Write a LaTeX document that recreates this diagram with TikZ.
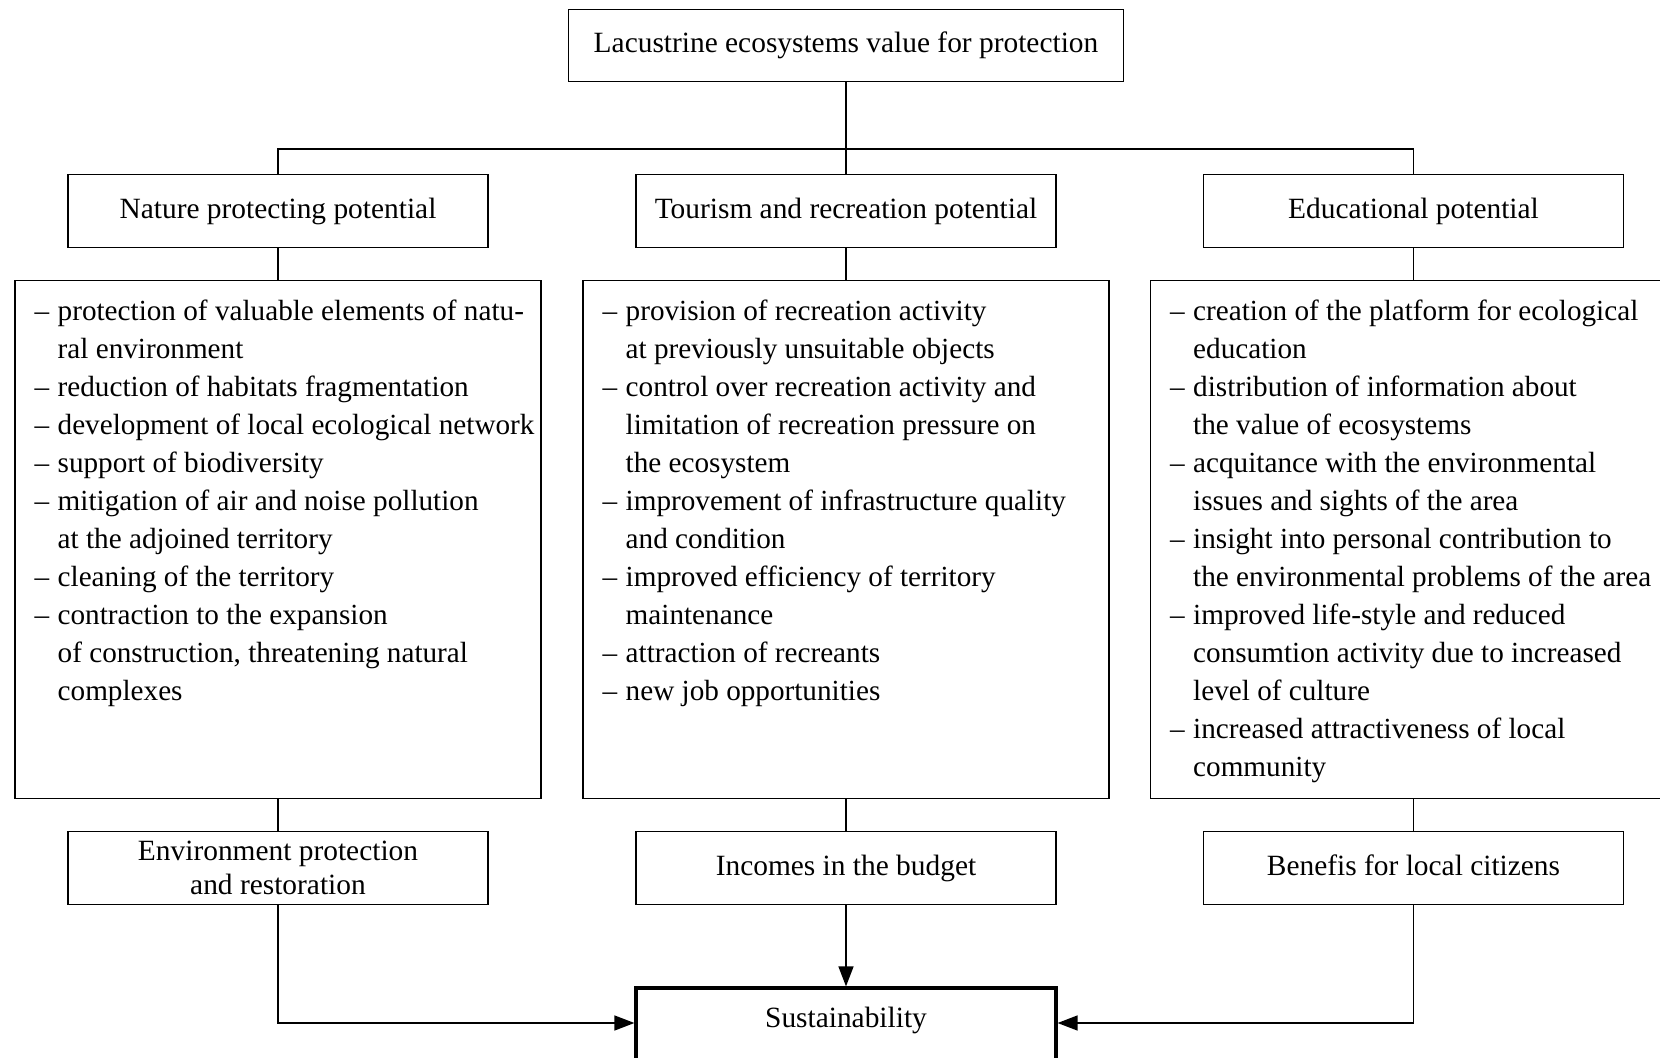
\documentclass[tikz,border=0pt]{standalone}
\usepackage{fontspec}
\setmainfont{Liberation Serif}
\usetikzlibrary{arrows.meta}

\tikzset{
  box/.style={draw, line width=0.7pt, minimum width=210pt, minimum height=36.5pt,
    inner sep=0pt, align=center, font=\fontsize{14.7}{17}\selectfont},
  listbox/.style={draw, line width=0.7pt, minimum width=263pt, minimum height=259pt, inner sep=0pt},
  listtext/.style={anchor=north west, inner sep=0pt, align=left, font=\fontsize{14.6}{19}\selectfont},
  link/.style={line width=0.7pt},
  arr/.style={line width=0.7pt, -{Triangle[length=10pt,width=7.5pt]}},
}
\newcommand\li{\makebox[11.5pt][l]{--}}
\newcommand\lc{\hspace*{11.5pt}}

\begin{document}
\begin{tikzpicture}[x=0.5pt,y=-0.5pt]
\useasboundingbox (0,0) rectangle (1660,1058);
\clip (0,0) rectangle (1660,1058);

\node[box, minimum width=277.5pt, minimum height=36pt] (value) at (846,45.5) {Lacustrine ecosystems value for protection};
\coordinate (bus) at (846,149);

% potentials
\node[box] (nature)  at (278,211)    {Nature protecting potential};
\node[box] (tourism) at (846,211)    {Tourism and recreation potential};
\node[box] (educ)    at (1413.5,211) {Educational potential};

% lists of effects
\node[listbox] (natureList)  at (278,539.5)    {};
\node[listbox] (tourismList) at (846,539.5)    {};
\node[listbox] (educList)    at (1413.5,539.5) {};

\node[listtext] (natureText) at ([xshift=10pt,yshift=-10pt]natureList.north west) {%
\li protection of valuable elements of natu-\\
\lc ral environment\\
\li reduction of habitats fragmentation\\
\li development of local ecological network\\
\li support of biodiversity\\
\li mitigation of air and noise pollution\\
\lc at the adjoined territory\\
\li cleaning of the territory\\
\li contraction to the expansion\\
\lc of construction, threatening natural\\
\lc complexes};

\node[listtext] (tourismText) at ([xshift=10pt,yshift=-10pt]tourismList.north west) {%
\li provision of recreation activity\\
\lc at previously unsuitable objects\\
\li control over recreation activity and\\
\lc limitation of recreation pressure on\\
\lc the ecosystem\\
\li improvement of infrastructure quality\\
\lc and condition\\
\li improved efficiency of territory\\
\lc maintenance\\
\li attraction of recreants\\
\li new job opportunities};

\node[listtext] (educText) at ([xshift=10pt,yshift=-10pt]educList.north west) {%
\li creation of the platform for ecological\\
\lc education\\
\li distribution of information about\\
\lc the value of ecosystems\\
\li acquitance with the environmental\\
\lc issues and sights of the area\\
\li insight into personal contribution to\\
\lc the environmental problems of the area\\
\li improved life-style and reduced\\
\lc consumtion activity due to increased\\
\lc level of culture\\
\li increased attractiveness of local\\
\lc community};

% results
\node[box] (envir)   at (278,868)    {Environment protection\\and restoration};
\node[box] (budget)  at (846,868)    {Incomes in the budget};
\node[box, text depth=3pt] (benefit) at (1413.5,868) {Benefis for local citizens};

% bottom box runs off the page
\node[box, line width=1.6pt, minimum height=39pt] (sustain) at (846,1027)
  {\raisebox{3.5pt}[\height][\depth]{Sustainability}};
\coordinate (sustainW) at ([yshift=2pt]sustain.west);
\coordinate (sustainE) at ([yshift=2pt]sustain.east);

\draw[link] (value.south) -- (tourism.north);
\draw[link] (nature.north) |- (bus) -| (educ.north);

\draw[link] (nature.south)  -- (natureList.north);
\draw[link] (tourism.south) -- (tourismList.north);
\draw[link] (educ.south)    -- (educList.north);

\draw[link] (natureList.south)  -- (envir.north);
\draw[link] (tourismList.south) -- (budget.north);
\draw[link] (educList.south)    -- (benefit.north);

\draw[arr] (envir.south) |- (sustainW);
\draw[arr] (budget.south) -- (sustain.north);
\draw[arr] (benefit.south) |- (sustainE);
\end{tikzpicture}
\end{document}
